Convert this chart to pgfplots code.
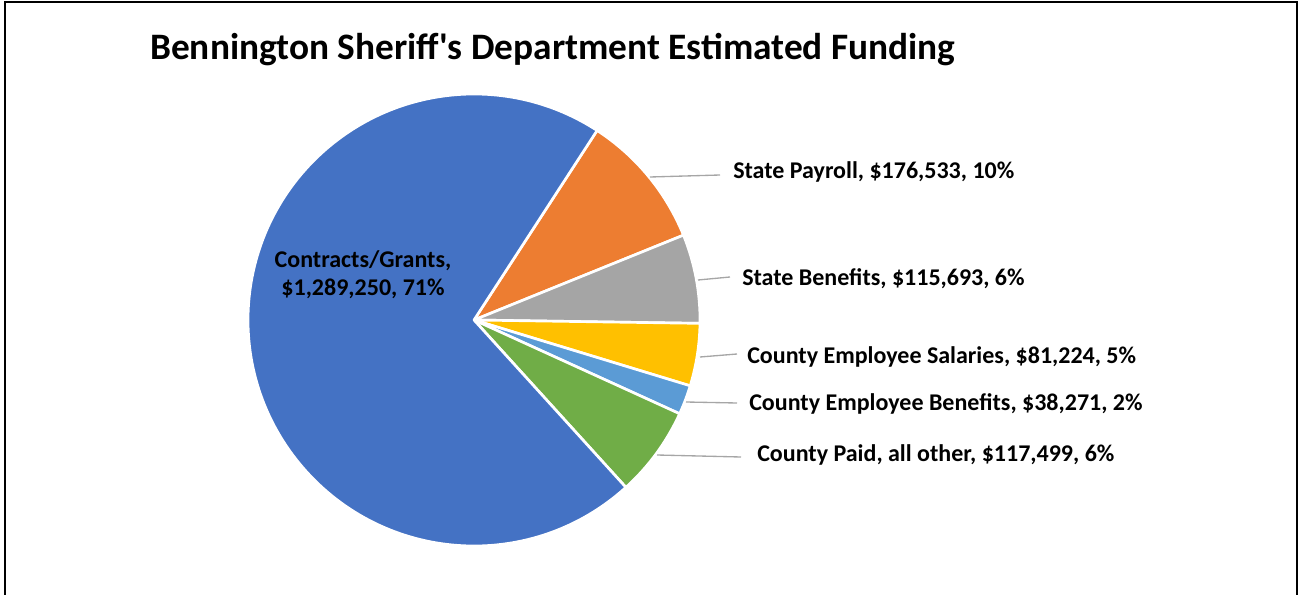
\documentclass[border=0pt]{standalone}
\usepackage{fontspec}
\setmainfont{Carlito}
\usepackage{pgfplots}
\usepackage{pgfplotstable}
\pgfplotsset{compat=1.18}

\definecolor{cBlue}{HTML}{4472C4}
\definecolor{cOrange}{HTML}{ED7D31}
\definecolor{cGray}{HTML}{A5A5A5}
\definecolor{cGold}{HTML}{FFC000}
\definecolor{cLight}{HTML}{5B9BD5}
\definecolor{cGreen}{HTML}{70AD47}
\definecolor{leader}{HTML}{A6A6A6}

% slices in clockwise order, starting at the orange one
\pgfplotstableread[col sep=semicolon]{
value;color
176533;cOrange
115693;cGray
81224;cGold
38271;cLight
117499;cGreen
1289250;cBlue
}\funding

\pgfplotstablegetrowsof{\funding}
\pgfmathtruncatemacro\lastrow{\pgfplotsretval-1}
\def\total{0}
\pgfplotsforeachungrouped \i in {0,...,\lastrow}{%
  \pgfplotstablegetelem{\i}{value}\of\funding
  \xdef\total{\fpeval{\total+\pgfplotsretval}}%
}

\newcommand\lbl{\fontsize{18}{21}\selectfont\bfseries}

\begin{document}
\begin{tikzpicture}
\begin{axis}[
    x=0.75pt, y=0.75pt,
    xmin=0, xmax=1300, ymin=0, ymax=594,
    hide axis, clip=false,
]
% pie: centre (474,274), radius 226 units = 169.5pt
\def\acur{57}
\pgfplotsforeachungrouped \i in {0,...,\lastrow}{%
  \pgfplotstablegetelem{\i}{value}\of\funding
  \let\val\pgfplotsretval
  \pgfplotstablegetelem{\i}{color}\of\funding
  \let\col\pgfplotsretval
  \edef\anext{\fpeval{\acur-360*\val/\total}}%
  \edef\xs{\fpeval{474+226*cosd(\acur)}}%
  \edef\ys{\fpeval{274+226*sind(\acur)}}%
  \edef\tmp{\noexpand\filldraw[fill=\col,draw=white,line width=2pt,line join=round]
    (axis cs:474,274) -- (axis cs:\xs,\ys)
    arc[start angle=\acur,end angle=\anext,radius=169.5pt] -- cycle;}%
  \tmp
  \global\let\acur\anext
}

% leader lines
\draw[leader, line width=1pt] (axis cs:650,417) -- (axis cs:720,419);
\draw[leader, line width=1pt] (axis cs:698,314) -- (axis cs:730,317);
\draw[leader, line width=1pt] (axis cs:700,237) -- (axis cs:737,240);
\draw[leader, line width=1pt] (axis cs:686,192) -- (axis cs:737,191);
\draw[leader, line width=1pt] (axis cs:657,139) -- (axis cs:741,137);

% labels
\node[anchor=base, inner sep=0pt] at (axis cs:363,326) {\lbl Contracts/Grants,};
\node[anchor=base, inner sep=0pt] at (axis cs:363,299) {\lbl \$1,289,250, 71\%};
\node[anchor=base west, inner sep=0pt] at (axis cs:733,415) {\lbl State Payroll, \$176,533, 10\%};
\node[anchor=base west, inner sep=0pt] at (axis cs:742,309) {\lbl State Benefits, \$115,693, 6\%};
\node[anchor=base west, inner sep=0pt] at (axis cs:747,231) {\lbl County Employee Salaries, \$81,224, 5\%};
\node[anchor=base west, inner sep=0pt] at (axis cs:749,184) {\lbl County Employee Benefits, \$38,271, 2\%};
\node[anchor=base west, inner sep=0pt] at (axis cs:757,133) {\lbl County Paid, all other, \$117,499, 6\%};

% title
\node[anchor=base west, inner sep=0pt] at (axis cs:150,534)
  {\fontsize{28}{33}\selectfont\bfseries Bennington Sheriff\textquotesingle s Department Estimated Funding};

% chart frame
\draw[black, line width=1.5pt] (axis cs:5,-20) -- (axis cs:5,591.5) -- (axis cs:1297,591.5) -- (axis cs:1297,-20);
\end{axis}
\pgfresetboundingbox
\path[use as bounding box] (current axis.south west) rectangle (current axis.north east);
\end{tikzpicture}
\end{document}
